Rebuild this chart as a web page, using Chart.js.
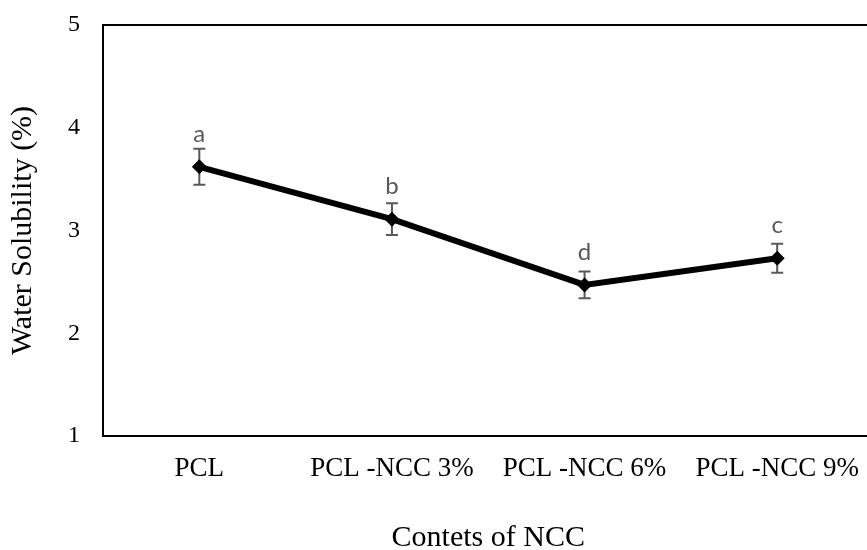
<!DOCTYPE html>
<html lang="en">
  <head>
    <meta charset="UTF-8" />
    <title>Water Solubility</title>
    <script src="https://cdn.jsdelivr.net/npm/chart.js"></script>
    <style>
      html, body { margin: 0; padding: 0; background: #fff; overflow: hidden; }
      #wrap { width: 881px; height: 550px; }
    </style>
  </head>
  <body>
    <div id="wrap"><canvas id="solubilityChart"></canvas></div>

    <script>
      // data
      const categories = ['PCL', 'PCL -NCC 3%', 'PCL -NCC 6%', 'PCL -NCC 9%'];
      const solubility = [3.62, 3.11, 2.47, 2.73];
      const errors = [0.175, 0.155, 0.13, 0.14];
      const groupLetters = ['a', 'b', 'd', 'c'];
      const yTicks = [1, 2, 3, 4, 5];

      const serif = 'Liberation Serif, Times New Roman, serif';

      // frame, error bars and letters
      const extras = {
        id: 'extras',
        beforeDatasetsDraw(chart) {
          const { ctx, scales: { x, y } } = chart;
          ctx.save();
          ctx.strokeStyle = '#595959';
          ctx.lineWidth = 2;
          solubility.forEach((v, i) => {
            const px = x.getPixelForValue(i);
            const top = y.getPixelForValue(v + errors[i]);
            const bot = y.getPixelForValue(v - errors[i]);
            ctx.beginPath();
            ctx.moveTo(px, top); ctx.lineTo(px, bot);
            ctx.moveTo(px - 6, top); ctx.lineTo(px + 6, top);
            ctx.moveTo(px - 6, bot); ctx.lineTo(px + 6, bot);
            ctx.stroke();
          });
          ctx.restore();
        },
        afterDatasetsDraw(chart) {
          const { ctx, chartArea: a, scales: { x, y } } = chart;
          ctx.save();
          ctx.strokeStyle = '#000';
          ctx.lineWidth = 2;
          ctx.strokeRect(a.left, a.top, a.right - a.left, a.bottom - a.top);

          ctx.fillStyle = '#595959';
          ctx.font = '24px Lato, "Open Sans", sans-serif';
          ctx.textAlign = 'center';
          ctx.textBaseline = 'alphabetic';
          groupLetters.forEach((t, i) => {
            ctx.fillText(t, x.getPixelForValue(i), y.getPixelForValue(solubility[i]) - 25);
          });
          ctx.restore();
        }
      };

      new Chart(document.getElementById('solubilityChart'), {
        type: 'line',
        data: {
          labels: categories,
          datasets: [{
            data: solubility,
            borderColor: '#000',
            backgroundColor: '#000',
            borderWidth: 6,
            pointStyle: 'rectRot',
            pointRadius: 7.5,
            pointBorderWidth: 0,
            tension: 0
          }]
        },
        options: {
          responsive: true,
          maintainAspectRatio: false,
          animation: false,
          layout: { padding: { top: 25, left: 0, right: 0, bottom: 0 } },
          plugins: { legend: { display: false }, tooltip: { enabled: false } },
          scales: {
            x: {
              offset: true,
              grid: { display: false, drawTicks: false },
              border: { display: true, color: '#000', width: 2 },
              ticks: { color: '#000', font: { family: serif, size: 27 }, padding: 17 },
              title: {
                display: true, text: 'Contets of NCC', color: '#000',
                font: { family: serif, size: 30 }, padding: { top: 0, bottom: -6 }
              },
              afterFit(scale) { scale.height = 114; }
            },
            y: {
              min: 1,
              max: 5,
              afterBuildTicks(scale) { scale.ticks = yTicks.map(v => ({ value: v })); },
              grid: { display: false, drawTicks: false },
              border: { display: true, color: '#000', width: 2 },
              ticks: { color: '#000', font: { family: serif, size: 24 }, padding: 23 },
              title: {
                display: true, text: 'Water Solubility (%)', color: '#000',
                font: { family: serif, size: 30 }, padding: { top: 5, bottom: 0 }
              },
              afterFit(scale) {
                scale.width = 103;
                scale.paddingTop = 0;
                scale.paddingBottom = 0;
              }
            }
          }
        },
        plugins: [extras]
      });
    </script>
  </body>
</html>
